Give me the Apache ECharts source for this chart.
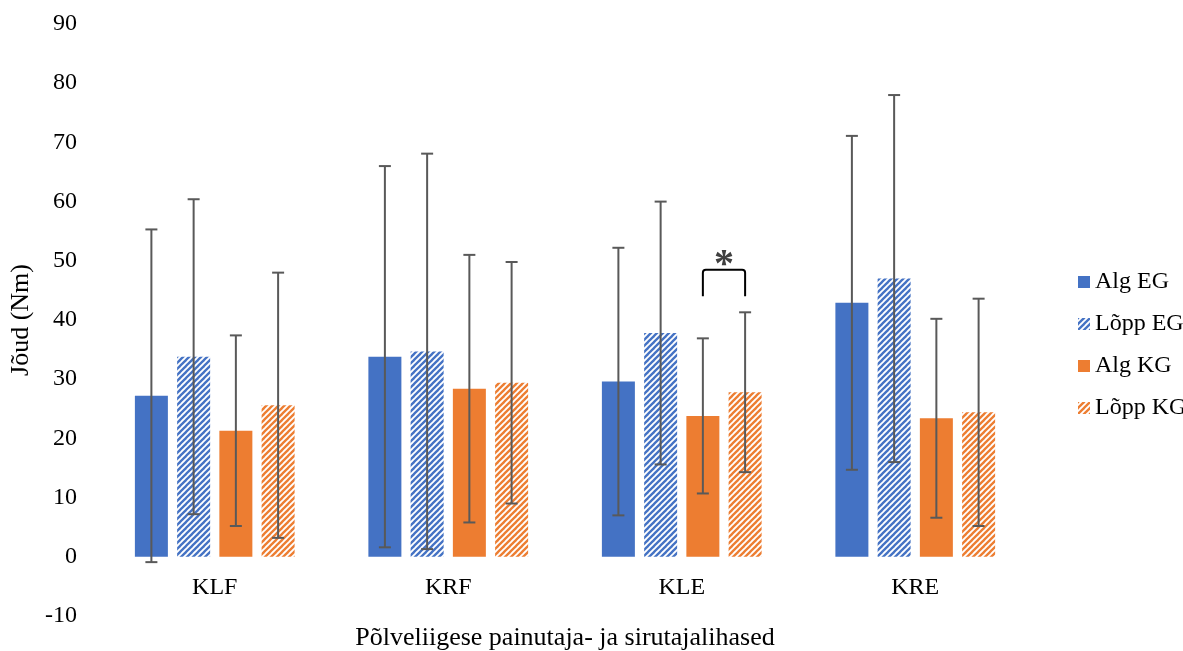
<!DOCTYPE html>
<html>
<head>
<meta charset="utf-8">
<script src="https://cdn.jsdelivr.net/npm/echarts@6/dist/echarts.min.js"></script>
<style>
  html, body { margin: 0; padding: 0; background: #fff; }
  #chart { width: 1183px; height: 651px; }
</style>
</head>
<body>
<div id="chart"></div>
<script>
// Muscle groups on the category axis
const categories = ['KLF', 'KRF', 'KLE', 'KRE'];
const seriesNames = ['Alg EG', 'Lõpp EG', 'Alg KG', 'Lõpp KG'];

// Mean force (Nm) per group and measurement
const algEG  = [27.2, 33.8, 29.6, 42.9];
const lopEG  = [33.8, 34.7, 37.8, 47.0];
const algKG  = [21.3, 28.4, 23.8, 23.4];
const lopKG  = [25.6, 29.4, 27.8, 24.4];

// Standard deviations (Nm)
const algEGsd = [28.1, 32.2, 22.6, 28.2];
const lopEGsd = [26.6, 33.4, 22.2, 31.0];
const algKGsd = [16.1, 22.6, 13.1, 16.8];
const lopKGsd = [22.4, 20.4, 13.5, 19.2];

// Value axis ticks
const yMin = -10, yMax = 90, yStep = 10;

// Significant difference marker: category, the two compared series, bracket level and leg end (Nm)
const significance = [
  { category: 'KLE', from: 'Alg KG', to: 'Lõpp KG', level: 48.5, legEnd: 44.0, label: '*' }
];

const means = [algEG, lopEG, algKG, lopKG];
const sds = [algEGsd, lopEGsd, algKGsd, lopKGsd];

const BLUE = '#4472C4';
const ORANGE = '#ED7D31';
const FONT = "'Liberation Serif', 'Times New Roman', serif";
const BAR_W = 33;
const BAR_GAP = 0.28;

// Upward diagonal stripe fill
function stripes(color) {
  const s = 6;
  const c = document.createElement('canvas');
  c.width = s; c.height = s;
  const g = c.getContext('2d');
  g.fillStyle = '#fff';
  g.fillRect(0, 0, s, s);
  g.strokeStyle = color;
  g.lineWidth = 2.3;
  for (let k = -1; k <= 1; k++) {
    g.beginPath();
    g.moveTo(k * s - 1, s + 1);
    g.lineTo(k * s + s + 1, -1);
    g.stroke();
  }
  return { image: c, repeat: 'repeat' };
}

const fills = [BLUE, stripes(BLUE), ORANGE, stripes(ORANGE)];

function barOffset(k) {
  return (k - 1.5) * (BAR_W * (1 + BAR_GAP));
}

const barSeries = seriesNames.map((name, k) => ({
  name: name,
  type: 'bar',
  data: means[k],
  barWidth: BAR_W,
  barGap: (BAR_GAP * 100) + '%',
  itemStyle: { color: fills[k] },
  emphasis: { disabled: true }
}));

const errData = [];
means.forEach((arr, k) => arr.forEach((m, i) => errData.push([i, m, sds[k][i], k])));

const errSeries = {
  type: 'custom',
  name: 'sd',
  data: errData,
  z: 5,
  silent: true,
  encode: { x: 0, y: 1 },
  renderItem: function (params, api) {
    const cat = api.value(0), m = api.value(1), sd = api.value(2), k = api.value(3);
    const cx = api.coord([cat, 0])[0] + barOffset(k);
    const yt = api.coord([cat, m + sd])[1];
    const yb = api.coord([cat, m - sd])[1];
    const cap = 6;
    const st = { stroke: '#595959', lineWidth: 2 };
    return {
      type: 'group',
      children: [
        { type: 'line', shape: { x1: cx, y1: yt, x2: cx, y2: yb }, style: st },
        { type: 'line', shape: { x1: cx - cap, y1: yt, x2: cx + cap, y2: yt }, style: st },
        { type: 'line', shape: { x1: cx - cap, y1: yb, x2: cx + cap, y2: yb }, style: st }
      ]
    };
  }
};

const sigData = significance.map(s => [
  categories.indexOf(s.category),
  seriesNames.indexOf(s.from),
  seriesNames.indexOf(s.to),
  s.level,
  s.legEnd
]);

const sigSeries = {
  type: 'custom',
  name: 'sig',
  data: sigData,
  z: 6,
  silent: true,
  encode: { x: 0, y: 3 },
  renderItem: function (params, api) {
    const cat = api.value(0), a = api.value(1), b = api.value(2);
    const base = api.coord([cat, 0])[0];
    const x1 = base + barOffset(a), x2 = base + barOffset(b);
    const yTop = api.coord([cat, api.value(3)])[1];
    const yLeg = api.coord([cat, api.value(4)])[1];
    const r = 3;
    return {
      type: 'group',
      children: [
        {
          type: 'path',
          shape: {
            pathData: 'M' + x1 + ' ' + yLeg + ' L' + x1 + ' ' + (yTop + r) +
              ' Q' + x1 + ' ' + yTop + ' ' + (x1 + r) + ' ' + yTop +
              ' L' + (x2 - r) + ' ' + yTop +
              ' Q' + x2 + ' ' + yTop + ' ' + x2 + ' ' + (yTop + r) +
              ' L' + x2 + ' ' + yLeg
          },
          style: { stroke: '#000', lineWidth: 2, fill: null }
        },
        {
          type: 'text',
          style: {
            x: (x1 + x2) / 2,
            y: yTop + 16,
            text: significance[params.dataIndex].label,
            fontFamily: FONT,
            fontSize: 40,
            fontWeight: 'bold',
            fill: '#404040',
            align: 'center',
            verticalAlign: 'bottom'
          }
        }
      ]
    };
  }
};

const chart = echarts.init(document.getElementById('chart'));
chart.setOption({
  animation: false,
  backgroundColor: '#fff',
  textStyle: { fontFamily: FONT, color: '#000' },
  grid: { left: 98, right: 151, top: 24, bottom: 35, containLabel: false, outerBoundsMode: 'none' },
  legend: {
    data: seriesNames,
    orient: 'vertical',
    left: 1073,
    top: 265,
    itemWidth: 12,
    itemHeight: 12,
    itemGap: 18,
    icon: 'rect',
    selectedMode: false,
    textStyle: { fontFamily: FONT, fontSize: 24, color: '#000' }
  },
  xAxis: {
    type: 'category',
    data: categories,
    axisLine: { show: false, onZero: false },
    axisTick: { show: false },
    axisLabel: { fontFamily: FONT, fontSize: 24, color: '#000', margin: 19 },
    name: 'Põlveliigese painutaja- ja sirutajalihased',
    nameLocation: 'middle',
    nameGap: 68,
    nameTextStyle: { fontFamily: FONT, fontSize: 26, color: '#000', verticalAlign: 'top' }
  },
  yAxis: {
    type: 'value',
    min: yMin,
    max: yMax,
    interval: yStep,
    axisLine: { show: false },
    axisTick: { show: false },
    splitLine: { show: false },
    axisLabel: { fontFamily: FONT, fontSize: 24, color: '#000', margin: 21 },
    name: 'Jõud (Nm)',
    nameLocation: 'middle',
    nameRotate: 90,
    nameGap: 57,
    nameTextStyle: { fontFamily: FONT, fontSize: 26, color: '#000' }
  },
  series: barSeries.concat([errSeries, sigSeries])
});

// Category labels hang from the zero level rather than the bottom of the plot
const zeroY = chart.convertToPixel({ yAxisIndex: 0 }, 0);
const floorY = chart.convertToPixel({ yAxisIndex: 0 }, yMin);
chart.setOption({ xAxis: { offset: zeroY - floorY } });
</script>
</body>
</html>
